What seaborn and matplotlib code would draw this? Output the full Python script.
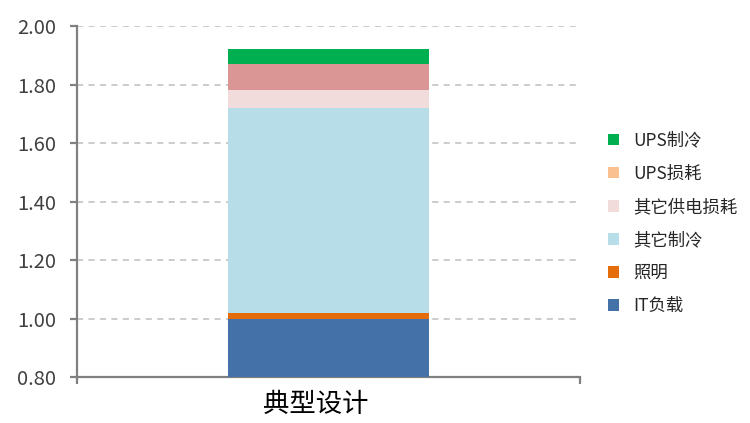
import numpy as np
import pandas as pd
import matplotlib
matplotlib.use("Agg")
import matplotlib.pyplot as plt
import matplotlib.patches as mpatches
import matplotlib.transforms as mtransforms
import seaborn as sns

# data (bottom to top)
category = ["典型设计"]
series = ["IT负载", "照明", "其它制冷", "其它供电损耗", "UPS损耗", "UPS制冷"]
values = [1.00, 0.02, 0.70, 0.06, 0.09, 0.05]
bar_colors = ["#4472A8", "#E46C0A", "#B7DDE8", "#F2DCDB", "#D99694", "#00B050"]
legend_colors = ["#4472A8", "#E46C0A", "#B7DDE8", "#F2DCDB", "#FAC090", "#00B050"]
y_ticks = [0.80, 1.00, 1.20, 1.40, 1.60, 1.80, 2.00]

sns.set_style("white")
plt.rcParams["font.family"] = ["Noto Sans CJK SC", "DejaVu Sans"]

fig = plt.figure(figsize=(7.5, 4.23), dpi=100)
ax = fig.add_axes([0.1027, 0.1087, 0.6703, 0.8298])

# stacked bar: draw cumulative totals from tallest to shortest
tops = np.cumsum(values)
for name, top, col in reversed(list(zip(series, tops, bar_colors))):
    df = pd.DataFrame({"cat": category, "val": [top]})
    sns.barplot(data=df, x="cat", y="val", color=col, saturation=1,
                width=0.4, linewidth=0, ax=ax, zorder=3)

ax.set_xlim(-0.5, 0.5)
ax.set_ylim(0.80, 2.00)
ax.set_yticks(y_ticks)
ax.set_yticklabels([f"{t:.2f}" for t in y_ticks])
ax.set_xlabel("")
ax.set_ylabel("")

# grid
ax.grid(axis="y", color="#BFBFBF", linestyle=(0, (4, 3.5)), linewidth=1.1, zorder=0)
ax.grid(axis="x", visible=False)

# spines
for s in ["top", "right"]:
    ax.spines[s].set_visible(False)
for s in ["left", "bottom"]:
    ax.spines[s].set_color("#808080")
    ax.spines[s].set_linewidth(1.6)

ax.tick_params(axis="y", direction="out", length=5, width=1.6, color="#808080",
               labelsize=14.5, labelcolor="#404040", left=True, pad=10)
ax.set_xticks([0])
ax.set_xticklabels(category)
ax.tick_params(axis="x", length=0, labelsize=19, labelcolor="#000000", pad=10)
ax.set_xticks([-0.5, 0.5], minor=True)
ax.tick_params(axis="x", which="minor", direction="out", length=5, width=1.6,
               color="#808080", bottom=True)
shift = mtransforms.ScaledTranslation(-13 / 100, 0, fig.dpi_scale_trans)
for lbl in ax.get_xticklabels():
    lbl.set_transform(lbl.get_transform() + shift)

# legend (top to bottom reversed order)
handles = [mpatches.Patch(facecolor=c, edgecolor="none", label=n)
           for n, c in zip(series, legend_colors)][::-1]
fig.legend(handles=handles, loc="upper left", bbox_to_anchor=(0.801, 0.705),
           frameon=False, fontsize=12.5, handlelength=0.63, handleheight=0.63,
           handletextpad=0.86, labelspacing=0.87, borderaxespad=0)

fig.savefig("out.png", dpi=100)
